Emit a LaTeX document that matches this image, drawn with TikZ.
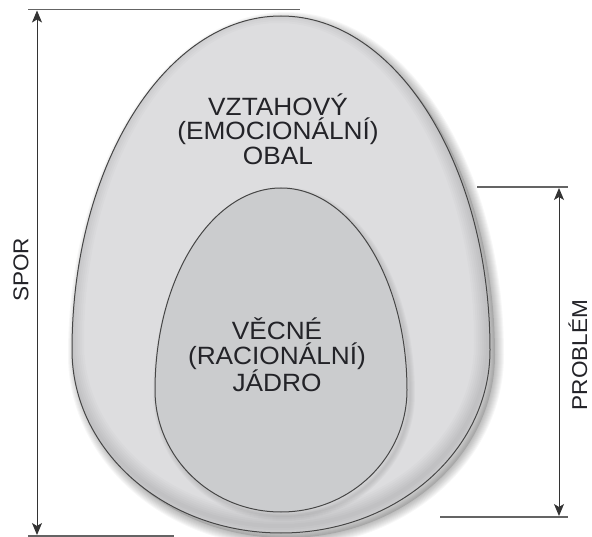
\documentclass[tikz,border=0pt]{standalone}
\usepackage{fontspec}
\setmainfont{Liberation Sans}
\newfontfamily\widefont[FakeStretch=1.05]{Liberation Sans}
\usetikzlibrary{arrows.meta}
\definecolor{outerfill}{RGB}{221,221,223}
\definecolor{innerfill}{RGB}{203,204,206}
\definecolor{edgecol}{RGB}{70,70,70}
\definecolor{txtcol}{RGB}{35,35,40}
\definecolor{rulecol}{RGB}{100,100,100}
\tikzset{
  eggedge/.style={draw=edgecol, line width=1pt},
  eggtext/.style={text=txtcol, align=center, font=\widefont\fontsize{25}{24.5}\selectfont, inner sep=0pt},
  sidelabel/.style={text=txtcol, font=\widefont\fontsize{21.5}{22}\selectfont, inner sep=0pt, rotate=90},
  hrule/.style={draw=rulecol, line width=1.8pt},
  dimarrow/.style={draw=black!80, line width=1pt, -{Stealth[length=12pt,width=10pt,inset=3pt]}},
}
\newcommand{\outeregg}{(72,350) arc[start angle=180,end angle=360,x radius=209,y radius=334] arc[start angle=0,end angle=180,x radius=209,y radius=183] -- cycle}
\newcommand{\inneregg}{(155,390) arc[start angle=180,end angle=360,x radius=126,y radius=202] arc[start angle=0,end angle=180,x radius=126,y radius=122] -- cycle}
\begin{document}
\begin{tikzpicture}[x=1pt,y=-1pt]
\useasboundingbox (0,0) rectangle (592,537);
% outer shadow
\begin{scope}[shift={(5,5)}]
  \fill[black, opacity=0.12] \outeregg;
  \foreach \w in {2,4,...,18} {
    \draw[black, draw opacity=0.03, line width=\w pt] \outeregg;
  }
\end{scope}
% outer egg
\fill[outerfill] \outeregg;
\begin{scope}
  \clip \outeregg;
  \foreach \w in {4,8,...,28} {
    \draw[black, draw opacity=0.014, line width=\w pt, shift={(-2,-7)}] \outeregg;
  }
\end{scope}
\draw[eggedge] \outeregg;
% inner egg
\begin{scope}[shift={(3,4)}]
  \foreach \w in {2,4,...,10} {
    \draw[black, draw opacity=0.025, line width=\w pt] \inneregg;
  }
\end{scope}
\fill[innerfill] \inneregg;
\draw[eggedge] \inneregg;
% texts
\node[eggtext] (outertext) at (278,129) {VZTAHOVÝ\\(EMOCIONÁLNÍ)\\OBAL};
\node[eggtext] (innertext) at (277,355) {VĚCNÉ\\(RACIONÁLNÍ)\\JÁDRO};
% left dimension
\coordinate (tl) at (28,9.5);
\coordinate (tr) at (300,9.5);
\coordinate (bl) at (28,536);
\coordinate (br) at (174,536);
\draw[hrule] (tl) -- (tr);
\draw[hrule] (bl) -- (br);
\coordinate (sporMid) at (37,270);
\coordinate (sporTop) at (37,10.5);
\coordinate (sporBot) at (37,535);
\draw[dimarrow] (sporMid) -- (sporTop);
\draw[dimarrow] (sporMid) -- (sporBot);
\node[sidelabel] (spor) at (21,270) {SPOR};
% right dimension
\coordinate (rtl) at (477,187);
\coordinate (rtr) at (568,187);
\coordinate (rbl) at (440,517);
\coordinate (rbr) at (568,517);
\draw[hrule] (rtl) -- (rtr);
\draw[hrule] (rbl) -- (rbr);
\coordinate (probMid) at (559,350);
\coordinate (probTop) at (559,188);
\coordinate (probBot) at (559,516);
\draw[dimarrow] (probMid) -- (probTop);
\draw[dimarrow] (probMid) -- (probBot);
\node[sidelabel] (problem) at (578,355) {PROBLÉM};
\end{tikzpicture}
\end{document}
